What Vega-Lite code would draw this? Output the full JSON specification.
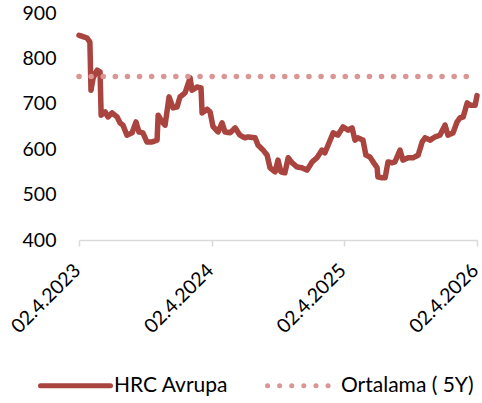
{
  "$schema": "https://vega.github.io/schema/vega-lite/v6.json",
  "width": 398,
  "height": 227,
  "autosize": {"type": "none"},
  "padding": {"left": 79, "top": 13, "right": 5, "bottom": 163},
  "config": {"view": {"stroke": null}, "font": "Lato"},
  "data": {
    "values": [
      {"date": "2023-04-02", "value": 851, "series": "HRC Avrupa"},
      {"date": "2023-04-24", "value": 845, "series": "HRC Avrupa"},
      {"date": "2023-05-02", "value": 836, "series": "HRC Avrupa"},
      {"date": "2023-05-05", "value": 730, "series": "HRC Avrupa"},
      {"date": "2023-05-11", "value": 757, "series": "HRC Avrupa"},
      {"date": "2023-05-22", "value": 774, "series": "HRC Avrupa"},
      {"date": "2023-05-30", "value": 770, "series": "HRC Avrupa"},
      {"date": "2023-06-02", "value": 675, "series": "HRC Avrupa"},
      {"date": "2023-06-13", "value": 682, "series": "HRC Avrupa"},
      {"date": "2023-06-21", "value": 671, "series": "HRC Avrupa"},
      {"date": "2023-07-02", "value": 680, "series": "HRC Avrupa"},
      {"date": "2023-07-16", "value": 671, "series": "HRC Avrupa"},
      {"date": "2023-07-24", "value": 658, "series": "HRC Avrupa"},
      {"date": "2023-08-01", "value": 653, "series": "HRC Avrupa"},
      {"date": "2023-08-12", "value": 631, "series": "HRC Avrupa"},
      {"date": "2023-08-26", "value": 636, "series": "HRC Avrupa"},
      {"date": "2023-09-06", "value": 660, "series": "HRC Avrupa"},
      {"date": "2023-09-14", "value": 638, "series": "HRC Avrupa"},
      {"date": "2023-09-25", "value": 636, "series": "HRC Avrupa"},
      {"date": "2023-10-06", "value": 616, "series": "HRC Avrupa"},
      {"date": "2023-10-20", "value": 616, "series": "HRC Avrupa"},
      {"date": "2023-11-03", "value": 620, "series": "HRC Avrupa"},
      {"date": "2023-11-06", "value": 675, "series": "HRC Avrupa"},
      {"date": "2023-11-17", "value": 660, "series": "HRC Avrupa"},
      {"date": "2023-11-25", "value": 653, "series": "HRC Avrupa"},
      {"date": "2023-12-06", "value": 715, "series": "HRC Avrupa"},
      {"date": "2023-12-17", "value": 691, "series": "HRC Avrupa"},
      {"date": "2023-12-28", "value": 693, "series": "HRC Avrupa"},
      {"date": "2024-01-05", "value": 715, "series": "HRC Avrupa"},
      {"date": "2024-01-19", "value": 724, "series": "HRC Avrupa"},
      {"date": "2024-02-02", "value": 757, "series": "HRC Avrupa"},
      {"date": "2024-02-07", "value": 730, "series": "HRC Avrupa"},
      {"date": "2024-02-21", "value": 737, "series": "HRC Avrupa"},
      {"date": "2024-03-03", "value": 735, "series": "HRC Avrupa"},
      {"date": "2024-03-06", "value": 680, "series": "HRC Avrupa"},
      {"date": "2024-03-20", "value": 688, "series": "HRC Avrupa"},
      {"date": "2024-03-28", "value": 682, "series": "HRC Avrupa"},
      {"date": "2024-04-05", "value": 650, "series": "HRC Avrupa"},
      {"date": "2024-04-19", "value": 638, "series": "HRC Avrupa"},
      {"date": "2024-04-30", "value": 658, "series": "HRC Avrupa"},
      {"date": "2024-05-08", "value": 638, "series": "HRC Avrupa"},
      {"date": "2024-05-22", "value": 636, "series": "HRC Avrupa"},
      {"date": "2024-06-05", "value": 647, "series": "HRC Avrupa"},
      {"date": "2024-06-18", "value": 631, "series": "HRC Avrupa"},
      {"date": "2024-07-02", "value": 625, "series": "HRC Avrupa"},
      {"date": "2024-07-10", "value": 627, "series": "HRC Avrupa"},
      {"date": "2024-07-30", "value": 625, "series": "HRC Avrupa"},
      {"date": "2024-08-07", "value": 609, "series": "HRC Avrupa"},
      {"date": "2024-08-21", "value": 598, "series": "HRC Avrupa"},
      {"date": "2024-09-01", "value": 587, "series": "HRC Avrupa"},
      {"date": "2024-09-09", "value": 559, "series": "HRC Avrupa"},
      {"date": "2024-09-23", "value": 550, "series": "HRC Avrupa"},
      {"date": "2024-10-01", "value": 576, "series": "HRC Avrupa"},
      {"date": "2024-10-09", "value": 550, "series": "HRC Avrupa"},
      {"date": "2024-10-20", "value": 548, "series": "HRC Avrupa"},
      {"date": "2024-10-29", "value": 581, "series": "HRC Avrupa"},
      {"date": "2024-11-09", "value": 570, "series": "HRC Avrupa"},
      {"date": "2024-11-22", "value": 561, "series": "HRC Avrupa"},
      {"date": "2024-12-06", "value": 559, "series": "HRC Avrupa"},
      {"date": "2024-12-20", "value": 554, "series": "HRC Avrupa"},
      {"date": "2025-01-03", "value": 572, "series": "HRC Avrupa"},
      {"date": "2025-01-16", "value": 581, "series": "HRC Avrupa"},
      {"date": "2025-01-30", "value": 598, "series": "HRC Avrupa"},
      {"date": "2025-02-07", "value": 592, "series": "HRC Avrupa"},
      {"date": "2025-02-16", "value": 609, "series": "HRC Avrupa"},
      {"date": "2025-03-02", "value": 636, "series": "HRC Avrupa"},
      {"date": "2025-03-15", "value": 631, "series": "HRC Avrupa"},
      {"date": "2025-03-29", "value": 649, "series": "HRC Avrupa"},
      {"date": "2025-04-12", "value": 642, "series": "HRC Avrupa"},
      {"date": "2025-04-23", "value": 647, "series": "HRC Avrupa"},
      {"date": "2025-05-01", "value": 620, "series": "HRC Avrupa"},
      {"date": "2025-05-09", "value": 625, "series": "HRC Avrupa"},
      {"date": "2025-05-23", "value": 620, "series": "HRC Avrupa"},
      {"date": "2025-05-31", "value": 587, "series": "HRC Avrupa"},
      {"date": "2025-06-11", "value": 583, "series": "HRC Avrupa"},
      {"date": "2025-06-20", "value": 572, "series": "HRC Avrupa"},
      {"date": "2025-07-01", "value": 559, "series": "HRC Avrupa"},
      {"date": "2025-07-03", "value": 539, "series": "HRC Avrupa"},
      {"date": "2025-07-14", "value": 537, "series": "HRC Avrupa"},
      {"date": "2025-07-23", "value": 537, "series": "HRC Avrupa"},
      {"date": "2025-07-31", "value": 572, "series": "HRC Avrupa"},
      {"date": "2025-08-11", "value": 570, "series": "HRC Avrupa"},
      {"date": "2025-08-19", "value": 572, "series": "HRC Avrupa"},
      {"date": "2025-09-02", "value": 598, "series": "HRC Avrupa"},
      {"date": "2025-09-10", "value": 576, "series": "HRC Avrupa"},
      {"date": "2025-09-24", "value": 581, "series": "HRC Avrupa"},
      {"date": "2025-10-08", "value": 581, "series": "HRC Avrupa"},
      {"date": "2025-10-22", "value": 587, "series": "HRC Avrupa"},
      {"date": "2025-11-02", "value": 616, "series": "HRC Avrupa"},
      {"date": "2025-11-10", "value": 625, "series": "HRC Avrupa"},
      {"date": "2025-11-24", "value": 620, "series": "HRC Avrupa"},
      {"date": "2025-12-07", "value": 627, "series": "HRC Avrupa"},
      {"date": "2025-12-21", "value": 631, "series": "HRC Avrupa"},
      {"date": "2026-01-04", "value": 653, "series": "HRC Avrupa"},
      {"date": "2026-01-12", "value": 631, "series": "HRC Avrupa"},
      {"date": "2026-01-26", "value": 636, "series": "HRC Avrupa"},
      {"date": "2026-02-06", "value": 660, "series": "HRC Avrupa"},
      {"date": "2026-02-14", "value": 669, "series": "HRC Avrupa"},
      {"date": "2026-02-23", "value": 671, "series": "HRC Avrupa"},
      {"date": "2026-03-06", "value": 702, "series": "HRC Avrupa"},
      {"date": "2026-03-14", "value": 697, "series": "HRC Avrupa"},
      {"date": "2026-03-28", "value": 697, "series": "HRC Avrupa"},
      {"date": "2026-04-02", "value": 718, "series": "HRC Avrupa"},
      {"date": "2023-04-02", "value": 760, "series": "Ortalama ( 5Y)"},
      {"date": "2026-04-02", "value": 760, "series": "Ortalama ( 5Y)"}
    ]
  },
  "mark": {"type": "line", "strokeWidth": 5.5, "strokeCap": "round", "strokeJoin": "round"},
  "encoding": {
    "x": {
      "field": "date",
      "type": "temporal",
      "scale": {"type": "utc", "domain": [{"year": 2023, "month": 4, "date": 2, "utc": true}, {"year": 2026, "month": 4, "date": 2, "utc": true}]},
      "axis": {
        "values": [
          {"year": 2023, "month": 4, "date": 2, "utc": true},
          {"year": 2024, "month": 4, "date": 2, "utc": true},
          {"year": 2025, "month": 4, "date": 2, "utc": true},
          {"year": 2026, "month": 4, "date": 2, "utc": true}
        ],
        "labelExpr": "utcFormat(datum.value, '%d.%-m.%Y')",
        "labelAngle": -45,
        "labelAlign": "right",
        "labelBaseline": "middle",
        "labelFontSize": 19.5,
        "labelColor": "#000000",
        "labelFlush": false,
        "labelOverlap": false,
        "labelBound": false,
        "labelPadding": 21,
        "labelOffset": -2,
        "domainColor": "#D9D9D9",
        "domainWidth": 1.5,
        "tickColor": "#D9D9D9",
        "tickWidth": 1.5,
        "tickSize": 6,
        "grid": false,
        "title": null
      }
    },
    "y": {
      "field": "value",
      "type": "quantitative",
      "scale": {"domain": [400, 900], "nice": false, "zero": false},
      "axis": {
        "values": [400, 500, 600, 700, 800, 900],
        "labelFontSize": 19.5,
        "labelColor": "#000000",
        "labelPadding": 23,
        "domain": false,
        "ticks": false,
        "grid": false,
        "title": null
      }
    },
    "color": {
      "field": "series",
      "type": "nominal",
      "scale": {"domain": ["HRC Avrupa", "Ortalama ( 5Y)"], "range": ["#A9443F", "#D99694"]},
      "legend": {
        "orient": "none",
        "legendX": -41,
        "legendY": 335,
        "direction": "horizontal",
        "title": null,
        "symbolType": "M-1,0H1",
        "symbolSize": 4900,
        "symbolStrokeWidth": 5,
        "labelFontSize": 21,
        "labelColor": "#000000",
        "labelOffset": 1,
        "columnPadding": 28,
        "encode": {"symbols": {"update": {"strokeCap": {"value": "round"}}}}
      }
    },
    "strokeDash": {
      "field": "series",
      "type": "nominal",
      "scale": {"domain": ["HRC Avrupa", "Ortalama ( 5Y)"], "range": [[1, 0], [0.1, 12]]},
      "legend": {
        "orient": "none",
        "legendX": -41,
        "legendY": 335,
        "direction": "horizontal",
        "title": null,
        "symbolType": "M-1,0H1",
        "symbolSize": 4900,
        "symbolStrokeWidth": 5,
        "labelFontSize": 21,
        "labelColor": "#000000",
        "labelOffset": 1,
        "columnPadding": 28,
        "encode": {"symbols": {"update": {"strokeCap": {"value": "round"}}}}
      }
    }
  }
}
